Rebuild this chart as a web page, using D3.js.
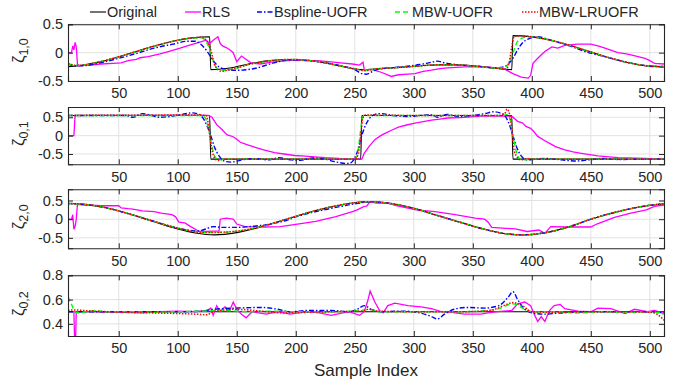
<!DOCTYPE html>
<html>
<head>
<meta charset="utf-8">
<script src="https://d3js.org/d3.v7.min.js"></script>
<style>
	body { margin: 0; background: #fff; }
	svg { display: block; font-family: 'Liberation Sans', Arial, sans-serif; }
</style>
</head>
<body>
<div id="chart"></div>
<script>
// ---- data (sample index, value) ----
const seriesNames = ['Original', 'RLS', 'Bspline-UOFR', 'MBW-UOFR', 'MBW-LRUOFR'];
const xTicks = [50, 100, 150, 200, 250, 300, 350, 400, 450, 500];
const yTicksSym = [-0.5, 0, 0.5];
const yTicksZ02 = [0.4, 0.6, 0.8];

// zeta_{1,0}
const z10Original = [[7,-0.246],[16,-0.23],[32,-0.172],[48,-0.086],[64,0.015],[80,0.116],[96,0.202],[112,0.26],[127,0.28],[128,-0.3],[144,-0.27],[160,-0.2],[176,-0.145],[195,-0.12],[210,-0.135],[225,-0.18],[240,-0.245],[255,-0.3],[256,-0.3],[272,-0.28],[288,-0.26],[304,-0.235],[320,-0.215],[336,-0.215],[352,-0.235],[368,-0.27],[383,-0.3],[384,0.3],[400,0.279],[416,0.219],[432,0.13],[448,0.025],[464,-0.08],[480,-0.169],[496,-0.229],[512,-0.25]];
const z10Rls = [[7,0],[10,0],[11,0.12],[12,0.05],[13,0.18],[14,0.1],[15,-0.2],[17,-0.23],[25,-0.22],[35,-0.2],[45,-0.19],[52,-0.18],[58,-0.14],[65,-0.12],[68,-0.09],[75,-0.07],[85,-0.02],[92,0.02],[102,0.08],[108,0.12],[113,0.15],[118,0.18],[124,0.22],[127,0.16],[130,0.22],[134,0.28],[136,0.16],[138,0.12],[141,0.09],[144,0.05],[147,0.0],[150,-0.16],[154,-0.06],[158,-0.12],[162,-0.18],[170,-0.2],[178,-0.17],[188,-0.15],[198,-0.13],[208,-0.14],[218,-0.14],[228,-0.16],[238,-0.18],[248,-0.2],[254,-0.22],[257,-0.17],[258,-0.3],[265,-0.3],[273,-0.35],[281,-0.42],[287,-0.39],[295,-0.38],[301,-0.37],[308,-0.33],[315,-0.31],[322,-0.28],[329,-0.27],[343,-0.25],[357,-0.25],[366,-0.26],[377,-0.29],[384,-0.37],[391,-0.43],[397,-0.45],[399,-0.4],[401,-0.19],[405,-0.1],[411,0.02],[417,0.1],[422,0.08],[428,0.13],[439,0.15],[450,0.15],[456,0.12],[462,0.08],[473,0.0],[480,-0.02],[484,-0.04],[490,-0.07],[496,-0.1],[500,-0.14],[504,-0.19],[512,-0.2]];
const z10Bspline = [[7,-0.2],[12,-0.23],[20,-0.23],[32,-0.19],[48,-0.11],[64,-0.02],[80,0.08],[96,0.15],[108,0.2],[115,0.2],[120,0.14],[125,0.02],[130,-0.14],[135,-0.25],[142,-0.3],[150,-0.31],[165,-0.28],[180,-0.19],[195,-0.13],[210,-0.14],[225,-0.18],[240,-0.24],[250,-0.3],[256,-0.37],[260,-0.38],[266,-0.32],[275,-0.28],[290,-0.25],[305,-0.21],[315,-0.17],[320,-0.15],[326,-0.18],[340,-0.22],[355,-0.24],[368,-0.27],[376,-0.25],[380,-0.2],[384,-0.1],[388,0.05],[392,0.17],[398,0.25],[405,0.28],[416,0.22],[432,0.12],[448,0.0],[460,-0.06],[475,-0.14],[490,-0.21],[500,-0.24],[512,-0.25]];
const z10Mbw = [[7,-0.2],[12,-0.22],[16,-0.225],[32,-0.17],[48,-0.085],[64,0.015],[80,0.115],[96,0.2],[112,0.255],[120,0.26],[124,0.2],[128,0.0],[131,-0.2],[135,-0.3],[140,-0.31],[150,-0.27],[160,-0.21],[176,-0.15],[195,-0.12],[210,-0.135],[225,-0.18],[240,-0.245],[252,-0.29],[258,-0.31],[264,-0.3],[272,-0.28],[288,-0.26],[304,-0.235],[320,-0.215],[336,-0.215],[352,-0.24],[368,-0.27],[376,-0.27],[380,-0.2],[384,0.0],[388,0.2],[394,0.27],[400,0.275],[416,0.219],[432,0.13],[448,0.025],[464,-0.08],[480,-0.169],[496,-0.225],[512,-0.24]];
const z10Lruofr = [[7,-0.19],[12,-0.22],[16,-0.225],[32,-0.17],[48,-0.085],[64,0.015],[80,0.115],[96,0.2],[112,0.26],[120,0.27],[125,0.2],[128,0.05],[131,-0.2],[134,-0.3],[137,-0.33],[142,-0.31],[150,-0.27],[160,-0.21],[176,-0.15],[195,-0.12],[210,-0.135],[225,-0.18],[240,-0.245],[252,-0.29],[258,-0.32],[264,-0.3],[272,-0.28],[288,-0.26],[304,-0.235],[320,-0.215],[336,-0.215],[352,-0.24],[368,-0.27],[378,-0.29],[381,-0.15],[383,0.1],[385,0.28],[388,0.3],[400,0.28],[416,0.219],[432,0.13],[448,0.025],[464,-0.08],[480,-0.169],[496,-0.228],[512,-0.245]];

// zeta_{0,1}
const z01Original = [[7,0.55],[127,0.55],[128,-0.64],[255,-0.64],[256,0.55],[383,0.55],[384,-0.64],[512,-0.64]];
const z01Rls = [[7,0],[12,0],[13,0.55],[60,0.55],[100,0.56],[126,0.55],[129,0.5],[131,0.4],[133,0.3],[137,0.18],[140,0.08],[142,0.02],[147,-0.03],[150,-0.1],[153,-0.18],[158,-0.24],[165,-0.31],[172,-0.38],[182,-0.46],[190,-0.5],[199,-0.54],[208,-0.56],[216,-0.58],[225,-0.6],[233,-0.61],[242,-0.63],[250,-0.64],[256,-0.64],[258,-0.48],[262,-0.3],[267,-0.11],[272,0.0],[276,0.07],[282,0.16],[287,0.23],[294,0.29],[301,0.34],[308,0.38],[315,0.42],[322,0.45],[329,0.48],[343,0.5],[357,0.53],[371,0.53],[383,0.53],[388,0.39],[392,0.35],[395,0.25],[399,0.2],[402,0.1],[405,-0.02],[410,-0.12],[414,-0.19],[420,-0.3],[428,-0.39],[435,-0.44],[442,-0.48],[456,-0.55],[473,-0.6],[496,-0.62],[512,-0.64]];
const z01Bspline = [[7,0.55],[30,0.55],[55,0.55],[62,0.5],[70,0.6],[78,0.55],[85,0.5],[95,0.53],[104,0.58],[112,0.62],[118,0.58],[122,0.45],[125,0.25],[128,0.0],[131,-0.3],[135,-0.55],[140,-0.7],[145,-0.72],[152,-0.68],[160,-0.63],[168,-0.63],[176,-0.66],[186,-0.6],[196,-0.66],[204,-0.67],[214,-0.61],[224,-0.63],[232,-0.7],[240,-0.75],[245,-0.76],[249,-0.66],[252,-0.45],[255,-0.1],[258,0.2],[262,0.45],[267,0.58],[272,0.6],[282,0.55],[295,0.52],[305,0.55],[315,0.57],[320,0.5],[328,0.58],[338,0.52],[350,0.55],[360,0.6],[368,0.65],[373,0.62],[377,0.55],[381,0.3],[384,0.0],[387,-0.3],[391,-0.55],[396,-0.66],[403,-0.64],[412,-0.62],[425,-0.66],[438,-0.69],[448,-0.66],[460,-0.62],[475,-0.65],[490,-0.64],[512,-0.64]];
const z01Mbw = [[7,0.55],[120,0.55],[123,0.5],[126,0.2],[129,-0.3],[132,-0.6],[135,-0.66],[140,-0.64],[200,-0.64],[250,-0.64],[252,-0.55],[254,-0.1],[256,0.4],[258,0.56],[262,0.55],[376,0.55],[379,0.58],[381,0.5],[384,0.0],[387,-0.45],[390,-0.64],[394,-0.66],[400,-0.64],[512,-0.64]];
const z01Lruofr = [[7,0.55],[120,0.56],[124,0.55],[126,0.3],[128,-0.2],[131,-0.6],[134,-0.68],[138,-0.64],[250,-0.64],[253,-0.5],[255,0.0],[257,0.5],[259,0.56],[300,0.55],[372,0.55],[377,0.6],[379,0.72],[381,0.6],[383,0.2],[385,-0.4],[388,-0.6],[391,-0.66],[396,-0.63],[400,-0.64],[512,-0.64]];

// zeta_{2,0}
const z20Original = [[7,0.42],[20,0.4],[40,0.3],[60,0.13],[80,-0.07],[100,-0.26],[115,-0.37],[131,-0.42],[150,-0.36],[170,-0.21],[190,-0.02],[210,0.17],[230,0.33],[250,0.44],[262,0.47],[280,0.42],[300,0.29],[320,0.1],[340,-0.09],[360,-0.27],[378,-0.39],[393,-0.42],[410,-0.37],[430,-0.22],[450,0.0],[470,0.18],[490,0.32],[505,0.39],[512,0.41]];
const z20Rls = [[7,0],[10,0],[11,0.12],[12,-0.27],[13,-0.2],[14,0.0],[15,0.4],[20,0.38],[35,0.36],[50,0.36],[52,0.3],[58,0.28],[62,0.27],[70,0.22],[80,0.2],[86,0.16],[95,0.12],[98,0.07],[101,-0.08],[106,-0.1],[111,-0.2],[116,-0.29],[119,-0.33],[125,-0.33],[130,-0.32],[135,-0.32],[136,0.0],[141,0.03],[147,0.0],[150,-0.13],[157,-0.2],[174,-0.21],[187,-0.2],[200,-0.14],[217,-0.06],[225,0.0],[234,0.07],[248,0.2],[252,0.25],[258,0.34],[260,0.35],[263,0.47],[268,0.43],[278,0.43],[285,0.36],[302,0.25],[318,0.2],[335,0.12],[352,0.03],[360,0.0],[363,-0.08],[366,-0.22],[386,-0.26],[396,-0.33],[406,-0.29],[411,-0.38],[416,-0.2],[430,-0.21],[450,-0.21],[455,-0.13],[470,0.05],[484,0.16],[497,0.25],[504,0.34],[512,0.38]];
const z20Bspline = [[7,0.42],[20,0.4],[40,0.3],[60,0.13],[80,-0.06],[100,-0.24],[110,-0.3],[117,-0.32],[124,-0.26],[130,-0.2],[138,-0.22],[150,-0.22],[160,-0.2],[170,-0.17],[180,-0.12],[190,-0.05],[200,0.06],[210,0.15],[230,0.29],[250,0.41],[262,0.46],[280,0.42],[300,0.29],[320,0.1],[340,-0.09],[360,-0.27],[378,-0.39],[393,-0.42],[410,-0.37],[430,-0.22],[450,0.0],[470,0.18],[490,0.32],[505,0.39],[512,0.41]];
const z20Mbw = [[7,0.42],[20,0.4],[40,0.3],[60,0.13],[80,-0.06],[100,-0.24],[115,-0.33],[125,-0.35],[138,-0.35],[150,-0.32],[165,-0.24],[180,-0.12],[190,-0.02],[210,0.17],[230,0.33],[250,0.44],[262,0.47],[280,0.42],[300,0.29],[320,0.1],[340,-0.09],[360,-0.27],[378,-0.39],[393,-0.42],[410,-0.37],[430,-0.22],[450,0.0],[470,0.18],[490,0.32],[505,0.39],[512,0.41]];
const z20Lruofr = [[7,0.42],[20,0.4],[40,0.3],[60,0.13],[80,-0.06],[100,-0.24],[115,-0.34],[125,-0.36],[138,-0.35],[150,-0.32],[165,-0.24],[180,-0.12],[190,-0.02],[210,0.17],[230,0.33],[250,0.44],[262,0.47],[280,0.42],[300,0.29],[320,0.1],[340,-0.09],[360,-0.27],[378,-0.39],[393,-0.42],[410,-0.37],[430,-0.22],[450,0.0],[470,0.18],[490,0.32],[505,0.39],[512,0.41]];

// zeta_{0,2}
const z02Original = [[7,0.5],[512,0.5]];
const z02Rls = [[7,0.5],[12,0.5],[13,0.1],[14,0.5],[30,0.5],[50,0.495],[70,0.49],[85,0.5],[100,0.505],[115,0.5],[125,0.51],[128,0.53],[130,0.47],[133,0.55],[136,0.5],[140,0.54],[144,0.51],[147,0.58],[150,0.52],[154,0.48],[158,0.45],[163,0.5],[175,0.48],[185,0.5],[195,0.48],[210,0.5],[220,0.49],[230,0.47],[245,0.5],[254,0.47],[258,0.5],[261,0.59],[263,0.67],[267,0.58],[271,0.51],[274,0.49],[278,0.55],[284,0.57],[295,0.55],[306,0.54],[315,0.525],[323,0.5],[332,0.495],[343,0.48],[357,0.48],[363,0.49],[371,0.5],[383,0.51],[388,0.565],[394,0.58],[399,0.55],[402,0.48],[405,0.42],[408,0.46],[411,0.42],[415,0.51],[419,0.55],[424,0.56],[428,0.525],[439,0.505],[450,0.5],[456,0.53],[467,0.525],[479,0.485],[487,0.52],[498,0.5],[504,0.51],[512,0.485]];
const z02Bspline = [[7,0.5],[60,0.5],[100,0.5],[120,0.505],[130,0.52],[150,0.53],[170,0.535],[185,0.52],[195,0.5],[210,0.51],[230,0.51],[245,0.5],[252,0.52],[258,0.55],[264,0.52],[272,0.5],[290,0.505],[305,0.49],[315,0.46],[320,0.44],[326,0.48],[334,0.52],[345,0.535],[360,0.53],[372,0.55],[380,0.62],[384,0.665],[388,0.6],[393,0.53],[400,0.49],[410,0.48],[425,0.49],[450,0.5],[480,0.5],[500,0.5],[512,0.49]];
const z02Mbw = [[7,0.625],[10,0.56],[13,0.5],[16,0.49],[22,0.5],[30,0.51],[40,0.5],[60,0.5],[80,0.495],[100,0.5],[120,0.505],[140,0.51],[160,0.5],[180,0.505],[200,0.5],[230,0.5],[255,0.51],[262,0.52],[270,0.5],[300,0.5],[340,0.5],[370,0.52],[384,0.565],[392,0.53],[400,0.5],[420,0.5],[440,0.49],[460,0.5],[480,0.495],[500,0.5],[512,0.48]];
const z02Lruofr = [[7,0.51],[12,0.515],[20,0.51],[40,0.5],[60,0.495],[80,0.49],[100,0.485],[115,0.48],[125,0.475],[130,0.5],[150,0.52],[170,0.505],[190,0.49],[210,0.495],[230,0.5],[255,0.505],[262,0.52],[270,0.505],[300,0.5],[340,0.5],[365,0.51],[376,0.55],[384,0.575],[392,0.55],[400,0.5],[420,0.495],[450,0.5],[480,0.5],[500,0.495],[506,0.48],[512,0.43]];

// ---- layout ----
const width = 683;
const height = 383;
const xRange = [68, 664];
const fontSize = 14.5;
const textColor = '#262626';

const styles = [
	{ color: '#000000', width: 1.1, dash: null, curve: d3.curveMonotoneX },
	{ color: '#ff00ff', width: 1.3, dash: null, curve: d3.curveLinear },
	{ color: '#0000ff', width: 1.4, dash: '5,2,1.5,2', curve: d3.curveMonotoneX },
	{ color: '#00ff00', width: 1.4, dash: '5,3', curve: d3.curveMonotoneX },
	{ color: '#ff0000', width: 1.5, dash: '1.5,1.5', curve: d3.curveMonotoneX }
];

const panels = [
	{ sub: '1,0', top: 24.3, bottom: 81, yDomain: [-0.5, 0.5], yTicks: yTicksSym, series: [z10Original, z10Rls, z10Bspline, z10Mbw, z10Lruofr] },
	{ sub: '0,1', top: 107, bottom: 164.3, yDomain: [-0.78, 0.78], yTicks: yTicksSym, series: [z01Original, z01Rls, z01Bspline, z01Mbw, z01Lruofr] },
	{ sub: '2,0', top: 189.3, bottom: 248.3, yDomain: [-0.78, 0.8], yTicks: yTicksSym, series: [z20Original, z20Rls, z20Bspline, z20Mbw, z20Lruofr] },
	{ sub: '0,2', top: 275.3, bottom: 336, yDomain: [0.3, 0.8], yTicks: yTicksZ02, series: [z02Original, z02Rls, z02Bspline, z02Mbw, z02Lruofr] }
];

const svg = d3.select('#chart')
	.append('svg')
		.attr('width', width)
		.attr('height', height);

const xScale = d3.scaleLinear()
	.domain([7, 512])
	.range(xRange);

const fmt = d => String(d);

function renderPanel(p, i) {
	const yScale = d3.scaleLinear()
		.domain(p.yDomain)
		.range([p.bottom, p.top]);
	const g = svg.append('g').attr('class', `panel-${i}`);
	const clipId = `clip-${i}`;

	g.append('defs')
		.append('clipPath')
			.attr('id', clipId)
		.append('rect')
			.attr('x', xRange[0])
			.attr('y', p.top)
			.attr('width', xRange[1] - xRange[0])
			.attr('height', p.bottom - p.top);

	// grid
	g.append('g')
		.selectAll('line')
		.data(xTicks)
		.enter()
			.append('line')
				.attr('x1', d => xScale(d))
				.attr('x2', d => xScale(d))
				.attr('y1', p.top)
				.attr('y2', p.bottom)
				.attr('stroke', '#e2e2e2');
	g.append('g')
		.selectAll('line')
		.data(p.yTicks)
		.enter()
			.append('line')
				.attr('x1', xRange[0])
				.attr('x2', xRange[1])
				.attr('y1', d => yScale(d))
				.attr('y2', d => yScale(d))
				.attr('stroke', '#e2e2e2');

	// series
	const body = g.append('g').attr('clip-path', `url(#${clipId})`);
	p.series.forEach((data, k) => {
		const st = styles[k];
		const line = d3.line()
			.x(d => xScale(d[0]))
			.y(d => yScale(d[1]))
			.curve(st.curve);
		body.append('path')
			.datum(data)
			.attr('d', line)
			.attr('fill', 'none')
			.attr('stroke', st.color)
			.attr('stroke-width', st.width)
			.attr('stroke-dasharray', st.dash);
	});

	// axes: inward ticks on all four sides, like a boxed plot
	const bottomAxis = d3.axisBottom(xScale).tickValues(xTicks).tickSize(-5).tickPadding(7).tickFormat(fmt);
	const topAxis = d3.axisTop(xScale).tickValues(xTicks).tickSize(-5).tickFormat('');
	const leftAxis = d3.axisLeft(yScale).tickValues(p.yTicks).tickSize(-5).tickPadding(5).tickFormat(fmt);
	const rightAxis = d3.axisRight(yScale).tickValues(p.yTicks).tickSize(-5).tickFormat('');

	const axes = [
		[bottomAxis, `translate(0,${p.bottom})`],
		[topAxis, `translate(0,${p.top})`],
		[leftAxis, `translate(${xRange[0]},0)`],
		[rightAxis, `translate(${xRange[1]},0)`]
	];
	axes.forEach(([ax, tr]) => {
		const a = g.append('g')
			.attr('transform', tr)
			.call(ax);
		a.select('.domain').attr('stroke', textColor).attr('stroke-width', 1.1);
		a.selectAll('.tick line').attr('stroke', textColor);
		a.selectAll('.tick text')
			.attr('fill', textColor)
			.style('font-size', `${fontSize}px`)
			.style('font-family', "'Liberation Sans', Arial, sans-serif");
	});

	// y label zeta_{a,b}
	const label = g.append('text')
		.attr('transform', `translate(24,${(p.top + p.bottom) / 2 - 2}) rotate(-90)`)
		.attr('text-anchor', 'middle')
		.attr('fill', textColor);
	label.append('tspan')
		.style('font-size', '17px')
		.text('ζ');
	label.append('tspan')
		.attr('dy', 4)
		.style('font-size', '12.5px')
		.text(p.sub);
}

panels.forEach(renderPanel);

// x title
svg.append('text')
	.attr('x', (xRange[0] + xRange[1]) / 2)
	.attr('y', 376)
	.attr('text-anchor', 'middle')
	.attr('fill', textColor)
	.style('font-size', '17px')
	.text('Sample Index');

// legend
const legendX = [90, 185, 257, 395, 522];
const legend = svg.append('g').attr('class', 'legend');
seriesNames.forEach((name, k) => {
	const st = styles[k];
	const x0 = legendX[k];
	legend.append('line')
		.attr('x1', x0)
		.attr('x2', x0 + 16)
		.attr('y1', 12)
		.attr('y2', 12)
		.attr('stroke', st.color)
		.attr('stroke-width', st.width)
		.attr('stroke-dasharray', st.dash);
	legend.append('text')
		.attr('x', x0 + 17)
		.attr('y', 17)
		.attr('fill', textColor)
		.style('font-size', `${fontSize}px`)
		.text(name);
});
</script>
</body>
</html>
